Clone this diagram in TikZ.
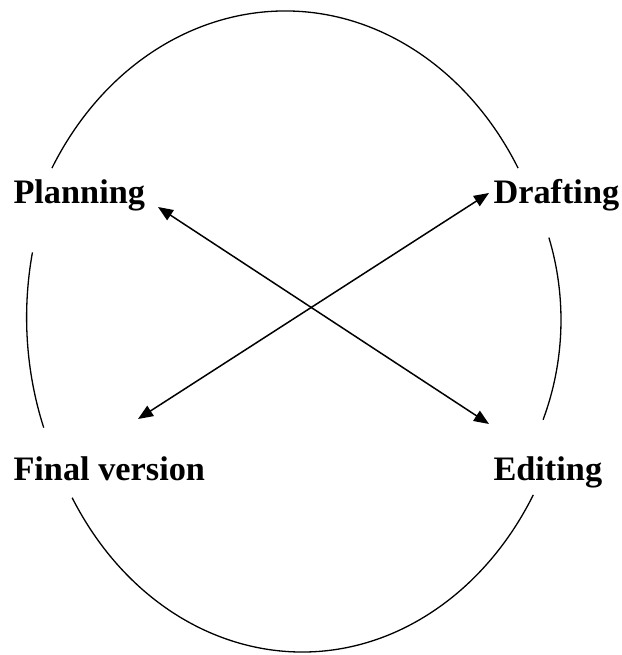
\documentclass[tikz,border=0pt]{standalone}
\usepackage{fontspec}
\setmainfont{Liberation Serif}
\usetikzlibrary{positioning, arrows.meta}
\tikzset{
  stage/.style={
    font=\bfseries\fontsize{34.3}{40}\selectfont,
    inner sep=0pt, anchor=base west
  },
  ring/.style={line width=1.3pt, black},
  link/.style={{Triangle[length=15pt, width=12pt]}-{Triangle[length=15pt, width=12pt]}, line width=1.5pt, black}
}

\begin{document}
\begin{tikzpicture}[x=1pt, y=1pt]
\useasboundingbox (0,0) rectangle (621,655);

% Stages
\node[stage] (planning) at (13.3, 451) {Planning};
\node[stage] (drafting) at (493.3, 451) {Drafting};
\node[stage] (final) at (13.3, 174) {Final version};
\node[stage] (editing) at (493.3, 174) {Editing};

% Arrow ends
\coordinate (planning_tip) at ([xshift=144.7pt, yshift=-3pt]planning.base west);
\coordinate (drafting_tip) at ([xshift=-4.3pt, yshift=11pt]drafting.base west);
\coordinate (final_tip) at ([xshift=124.7pt, yshift=62pt]final.base west);
\coordinate (editing_tip) at ([xshift=-4.3pt, yshift=57pt]editing.base west);

% Broken ring round the stages
\draw[ring] (285,324) ++(149.4:270.8 and 320) arc[start angle=149.4, end angle=30.6, x radius=270.8, y radius=320];
\draw[ring] (294,337.5) ++(168.0:267.4 and 313) arc[start angle=168.0, end angle=200.6, x radius=267.4, y radius=313];
\draw[ring] (302,324) ++(211.3:269 and 321) arc[start angle=211.3, end angle=329.3, x radius=269, y radius=321];
\draw[ring] (294,335) ++(-21.1:267 and 277) arc[start angle=-21.1, end angle=17.3, x radius=267, y radius=277];

% Crossing arrows
\draw[link] (planning_tip) -- (editing_tip);
\draw[link] (final_tip) -- (drafting_tip);

\end{tikzpicture}
\end{document}
